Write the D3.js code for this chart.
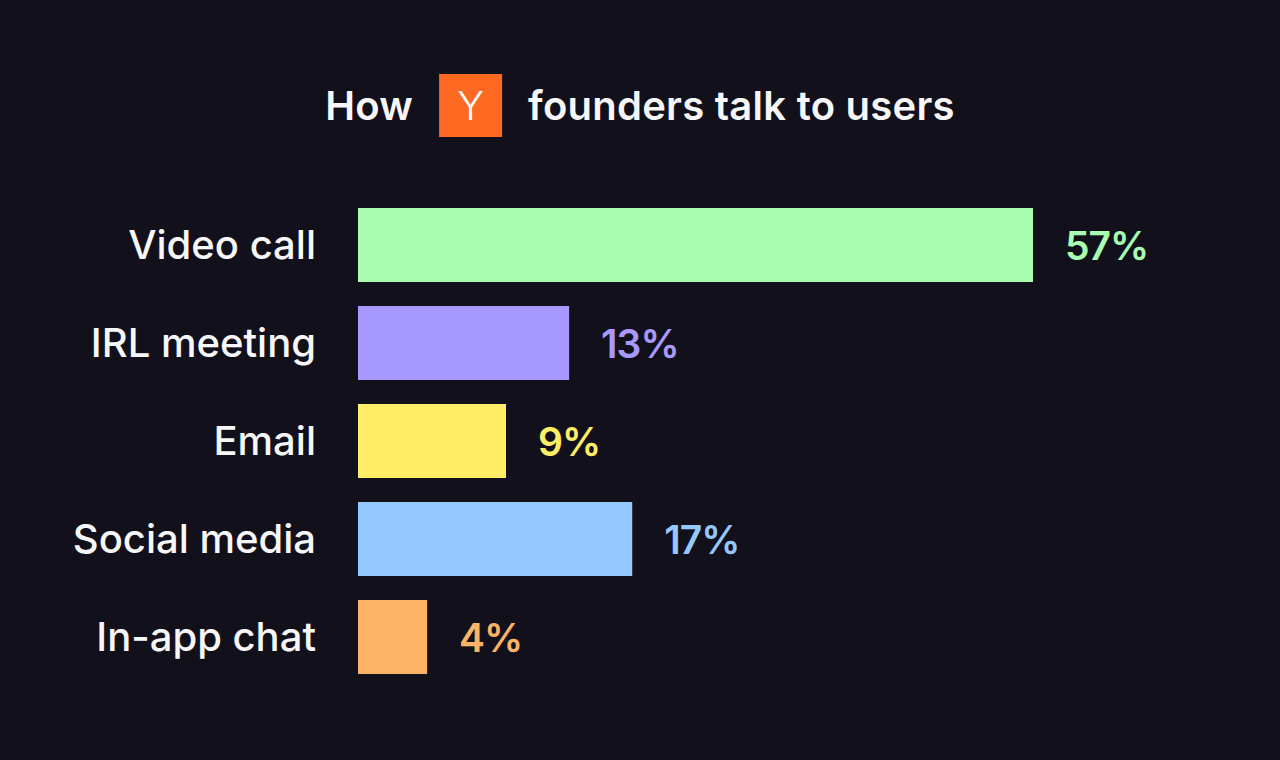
<!DOCTYPE html>
<html>
<head>
<meta charset="utf-8">
<title>How YC founders talk to users</title>
<script src="https://cdn.jsdelivr.net/npm/d3@7"></script>
<style>
  html, body { margin: 0; padding: 0; background: #12111b; }
  svg { display: block; }
  text { font-family: Inter, "Noto Sans", sans-serif; }
</style>
</head>
<body>
<div id="chart"></div>
<script>
// data
var categories = ['Video call', 'IRL meeting', 'Email', 'Social media', 'In-app chat'];
var values = [57, 13, 9, 17, 4];
var colors = ['#a8fdb0', '#a899ff', '#ffee66', '#94c8ff', '#ffb366'];

var width = 1280, height = 760;

var svg = d3.select('#chart')
  .append('svg')
    .attr('width', width).attr('height', height);

svg.append('rect')
  .attr('width', width).attr('height', height)
  .attr('fill', '#12111b');

// title: "How [Y] founders talk to users", centred on the page
var title = svg.append('g');
var gap = 26, box = 63, baseline = 120;

var left = title.append('text')
  .attr('y', baseline)
  .attr('fill', '#f7f7fa')
  .attr('font-size', 40).attr('font-weight', 600)
  .attr('letter-spacing', 0.25)
  .text('How');
var right = title.append('text')
  .attr('y', baseline)
  .attr('fill', '#f7f7fa')
  .attr('font-size', 40).attr('font-weight', 600)
  .attr('letter-spacing', 0.25)
  .text('founders talk to users');

var lw = left.node().getComputedTextLength()
  , rw = right.node().getComputedTextLength()
  , total = lw + gap + box + gap + rw
  , x0 = width / 2 - total / 2;

left.attr('x', x0);
var bx = x0 + lw + gap;
title.append('rect')
  .attr('x', bx).attr('y', 74)
  .attr('width', box).attr('height', box)
  .attr('fill', '#ff6a22');
title.append('text')
  .attr('x', bx + box / 2).attr('y', baseline)
  .attr('text-anchor', 'middle')
  .attr('fill', '#ffffff')
  .attr('font-size', 40).attr('font-weight', 300)
  .text('Y');
right.attr('x', bx + box + gap);

// scales: the small bars follow ~16px per point, the long one is capped at the right edge
var x = d3.scaleLinear()
  .domain([0, 42.4])
  .range([6, 675])
  .clamp(true);

var y = d3.scaleBand()
  .domain(categories)
  .range([196, 686])
  .paddingInner(0.245)
  .paddingOuter(0.1225);

var barLeft = 358;
var rows = categories.map(function(c, i) { return { cat: c, value: values[i], color: colors[i] }; });

var row = svg.append('g').selectAll('g')
  .data(rows)
  .enter().append('g')
    .attr('transform', function(d) { return 'translate(0,' + y(d.cat) + ')'; });

row.append('rect')
  .attr('x', barLeft)
  .attr('width', function(d) { return x(d.value); })
  .attr('height', y.bandwidth())
  .attr('fill', function(d) { return d.color; });

row.append('text')
  .attr('x', 316)
  .attr('y', y.bandwidth() / 2 + 14.5)
  .attr('text-anchor', 'end')
  .attr('fill', '#f7f7fa')
  .attr('font-size', 40).attr('font-weight', 500)
  .text(function(d) { return d.cat; });

row.append('text')
  .attr('x', function(d) { return barLeft + x(d.value) + 32; })
  .attr('y', y.bandwidth() / 2 + 15)
  .attr('fill', function(d) { return d.color; })
  .attr('font-size', 39).attr('font-weight', 600)
  .attr('letter-spacing', -1)
  .text(function(d) { return d.value + '%'; });
</script>
</body>
</html>
